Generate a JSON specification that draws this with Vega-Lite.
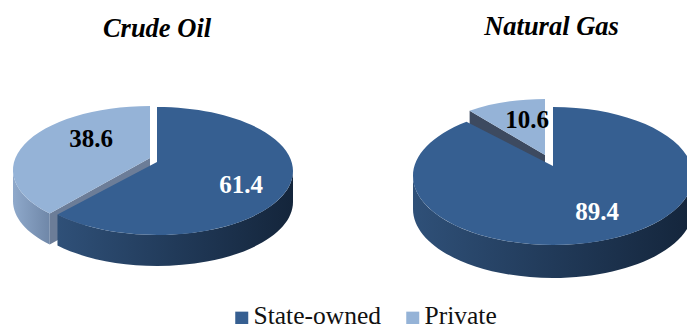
{
  "$schema": "https://vega.github.io/schema/vega-lite/v6.json",
  "width": 687,
  "height": 324,
  "padding": 0,
  "autosize": {"type": "none"},
  "background": "white",
  "config": {"view": {"stroke": null}, "font": "Liberation Serif"},
  "data": {"values": [
    {"pie": "Crude Oil", "sector": "Private", "share": 38.6},
    {"pie": "Crude Oil", "sector": "State-owned", "share": 61.4},
    {"pie": "Natural Gas", "sector": "Private", "share": 10.6},
    {"pie": "Natural Gas", "sector": "State-owned", "share": 89.4}
  ]},
  "transform": [
    {"calculate": "datum.sector === 'State-owned'", "as": "st"},
    {"calculate": "datum.pie === 'Crude Oil'", "as": "oil"},
    {"calculate": "datum.oil ? (datum.st ? 0 : -7) : (datum.st ? 0 : -8)", "as": "cx"},
    {"calculate": "datum.oil ? (datum.st ? 9 : 8) : (datum.st ? 14 : -8)", "as": "cy"},
    {"calculate": "datum.oil ? (datum.st ? 136 : 137) : (datum.st ? 140 : 122)", "as": "rx"},
    {"calculate": "datum.oil ? 64 : (datum.st ? 69 : 55)", "as": "ry"},
    {"calculate": "datum.oil ? (datum.st ? 0 : -7) : (datum.st ? 0 : -8)", "as": "ax"},
    {"calculate": "datum.oil ? (datum.st ? 0 : -4) : (datum.st ? 4 : -7)", "as": "ay"},
    {"calculate": "datum.oil ? 31 : 33", "as": "depth"},
    {"calculate": "datum.oil ? 6 : 0", "as": "lean"},
    {"calculate": "datum.st ? 0 : (100 - datum.share) * 3.6 + datum.lean", "as": "startDeg"},
    {"calculate": "datum.st ? datum.share * 3.6 + datum.lean : 360", "as": "endDeg"},
    {"calculate": "max(datum.startDeg, 90)", "as": "wallStart"},
    {"calculate": "min(datum.endDeg, 270)", "as": "wallEnd"},
    {"calculate": "round(100 * (datum.cx + datum.rx * sin(datum.startDeg * PI / 180))) / 100", "as": "sx"},
    {"calculate": "round(100 * (datum.cy - datum.ry * cos(datum.startDeg * PI / 180))) / 100", "as": "sy"},
    {"calculate": "round(100 * (datum.cx + datum.rx * sin(datum.endDeg * PI / 180))) / 100", "as": "ex"},
    {"calculate": "round(100 * (datum.cy - datum.ry * cos(datum.endDeg * PI / 180))) / 100", "as": "ey"},
    {"calculate": "round(100 * (datum.cx + datum.rx * sin(datum.wallStart * PI / 180))) / 100", "as": "wx0"},
    {"calculate": "round(100 * (datum.cy - datum.ry * cos(datum.wallStart * PI / 180))) / 100", "as": "wy0"},
    {"calculate": "round(100 * (datum.cx + datum.rx * sin(datum.wallEnd * PI / 180))) / 100", "as": "wx1"},
    {"calculate": "round(100 * (datum.cy - datum.ry * cos(datum.wallEnd * PI / 180))) / 100", "as": "wy1"},
    {"calculate": "'M' + datum.ax + ',' + datum.ay + 'L' + datum.sx + ',' + datum.sy + 'A' + datum.rx + ',' + datum.ry + ',0,' + (datum.endDeg - datum.startDeg > 180 ? 1 : 0) + ',1,' + datum.ex + ',' + datum.ey + 'Z'", "as": "topPath"},
    {"calculate": "'M' + datum.wx0 + ',' + datum.wy0 + 'A' + datum.rx + ',' + datum.ry + ',0,0,1,' + datum.wx1 + ',' + datum.wy1 + 'L' + datum.wx1 + ',' + (datum.wy1 + datum.depth) + 'A' + datum.rx + ',' + datum.ry + ',0,0,0,' + datum.wx0 + ',' + (datum.wy0 + datum.depth) + 'Z'", "as": "wallPath"},
    {"calculate": "'M' + datum.ax + ',' + datum.ay + 'L' + datum.sx + ',' + datum.sy + 'L' + datum.sx + ',' + (datum.sy + datum.depth) + 'L' + datum.ax + ',' + (datum.ay + datum.depth) + 'Z'", "as": "cutPath"}
  ],
  "encoding": {
    "x": {
      "field": "pie",
      "type": "nominal",
      "axis": null,
      "scale": {"type": "point", "domain": ["Crude Oil", "Natural Gas"], "range": [157, 553], "padding": 0}
    }
  },
  "layer": [
    {
      "transform": [{"filter": "!datum.st && datum.oil"}],
      "mark": {"type": "point", "filled": true, "opacity": 1, "size": 4, "fill": "#6c7d98", "stroke": null},
      "encoding": {"shape": {"field": "cutPath", "type": "nominal", "scale": null}}
    },
    {
      "transform": [{"filter": "!datum.st && !datum.oil"}],
      "mark": {"type": "point", "filled": true, "opacity": 1, "size": 4, "fill": "#3d4a60", "stroke": null},
      "encoding": {"shape": {"field": "cutPath", "type": "nominal", "scale": null}}
    },
    {
      "transform": [{"filter": "!datum.st && datum.wallEnd > datum.wallStart"}],
      "mark": {
        "type": "point", "filled": true, "opacity": 1, "size": 4, "stroke": null,
        "fill": {"gradient": "linear", "x1": 0, "y1": 0, "x2": 1, "y2": 0, "stops": [
          {"offset": 0, "color": "#8fa9cb"},
          {"offset": 1, "color": "#6f87a8"}
        ]}
      },
      "encoding": {"shape": {"field": "wallPath", "type": "nominal", "scale": null}}
    },
    {
      "transform": [{"filter": "datum.st"}],
      "mark": {
        "type": "point", "filled": true, "opacity": 1, "size": 4, "stroke": null,
        "fill": {"gradient": "linear", "x1": 0, "y1": 0, "x2": 1, "y2": 0, "stops": [
          {"offset": 0, "color": "#2f5078"},
          {"offset": 0.5, "color": "#213a59"},
          {"offset": 1, "color": "#14253b"}
        ]}
      },
      "encoding": {"shape": {"field": "wallPath", "type": "nominal", "scale": null}}
    },
    {
      "mark": {"type": "point", "filled": true, "opacity": 1, "size": 4, "stroke": null},
      "encoding": {
        "shape": {"field": "topPath", "type": "nominal", "scale": null},
        "color": {
          "field": "sector",
          "type": "nominal",
          "scale": {"domain": ["State-owned", "Private"], "range": ["#365f91", "#95b3d7"]},
          "legend": {
            "title": null,
            "orient": "none",
            "legendX": 229,
            "legendY": 303,
            "direction": "horizontal",
            "columns": 2,
            "columnPadding": 19,
            "symbolType": "M-1,-0.69H1V1.31H-1Z",
            "symbolSize": 169,
            "symbolOpacity": 1,
            "symbolStrokeWidth": 0,
            "labelFont": "Liberation Serif",
            "labelFontSize": 25.5,
            "labelColor": "#111111",
            "labelOffset": -1,
            "labelLimit": 200
          }
        }
      }
    },
    {
      "transform": [{"filter": "datum.st && datum.oil"}],
      "mark": {"type": "text", "font": "Liberation Serif", "fontSize": 26.5, "fontStyle": "italic", "fontWeight": "bold", "color": "black", "dy": -133},
      "encoding": {"text": {"field": "pie"}}
    },
    {
      "transform": [{"filter": "datum.st && !datum.oil"}],
      "mark": {"type": "text", "font": "Liberation Serif", "fontSize": 26.5, "fontStyle": "italic", "fontWeight": "bold", "color": "black", "dx": -1.5, "dy": -135},
      "encoding": {"text": {"field": "pie"}}
    },
    {
      "transform": [{"filter": "datum.oil && datum.st"}],
      "mark": {"type": "text", "font": "Liberation Serif", "fontSize": 25, "fontWeight": "bold", "color": "white", "dx": 84, "dy": 23},
      "encoding": {"text": {"field": "share", "format": ".1f"}}
    },
    {
      "transform": [{"filter": "datum.oil && !datum.st"}],
      "mark": {"type": "text", "font": "Liberation Serif", "fontSize": 25, "fontWeight": "bold", "color": "black", "dx": -66, "dy": -23},
      "encoding": {"text": {"field": "share", "format": ".1f"}}
    },
    {
      "transform": [{"filter": "!datum.oil && datum.st"}],
      "mark": {"type": "text", "font": "Liberation Serif", "fontSize": 25, "fontWeight": "bold", "color": "white", "dx": 44, "dy": 50},
      "encoding": {"text": {"field": "share", "format": ".1f"}}
    },
    {
      "transform": [{"filter": "!datum.oil && !datum.st"}],
      "mark": {"type": "text", "font": "Liberation Serif", "fontSize": 25, "fontWeight": "bold", "color": "black", "dx": -26, "dy": -42},
      "encoding": {"text": {"field": "share", "format": ".1f"}}
    }
  ]
}
